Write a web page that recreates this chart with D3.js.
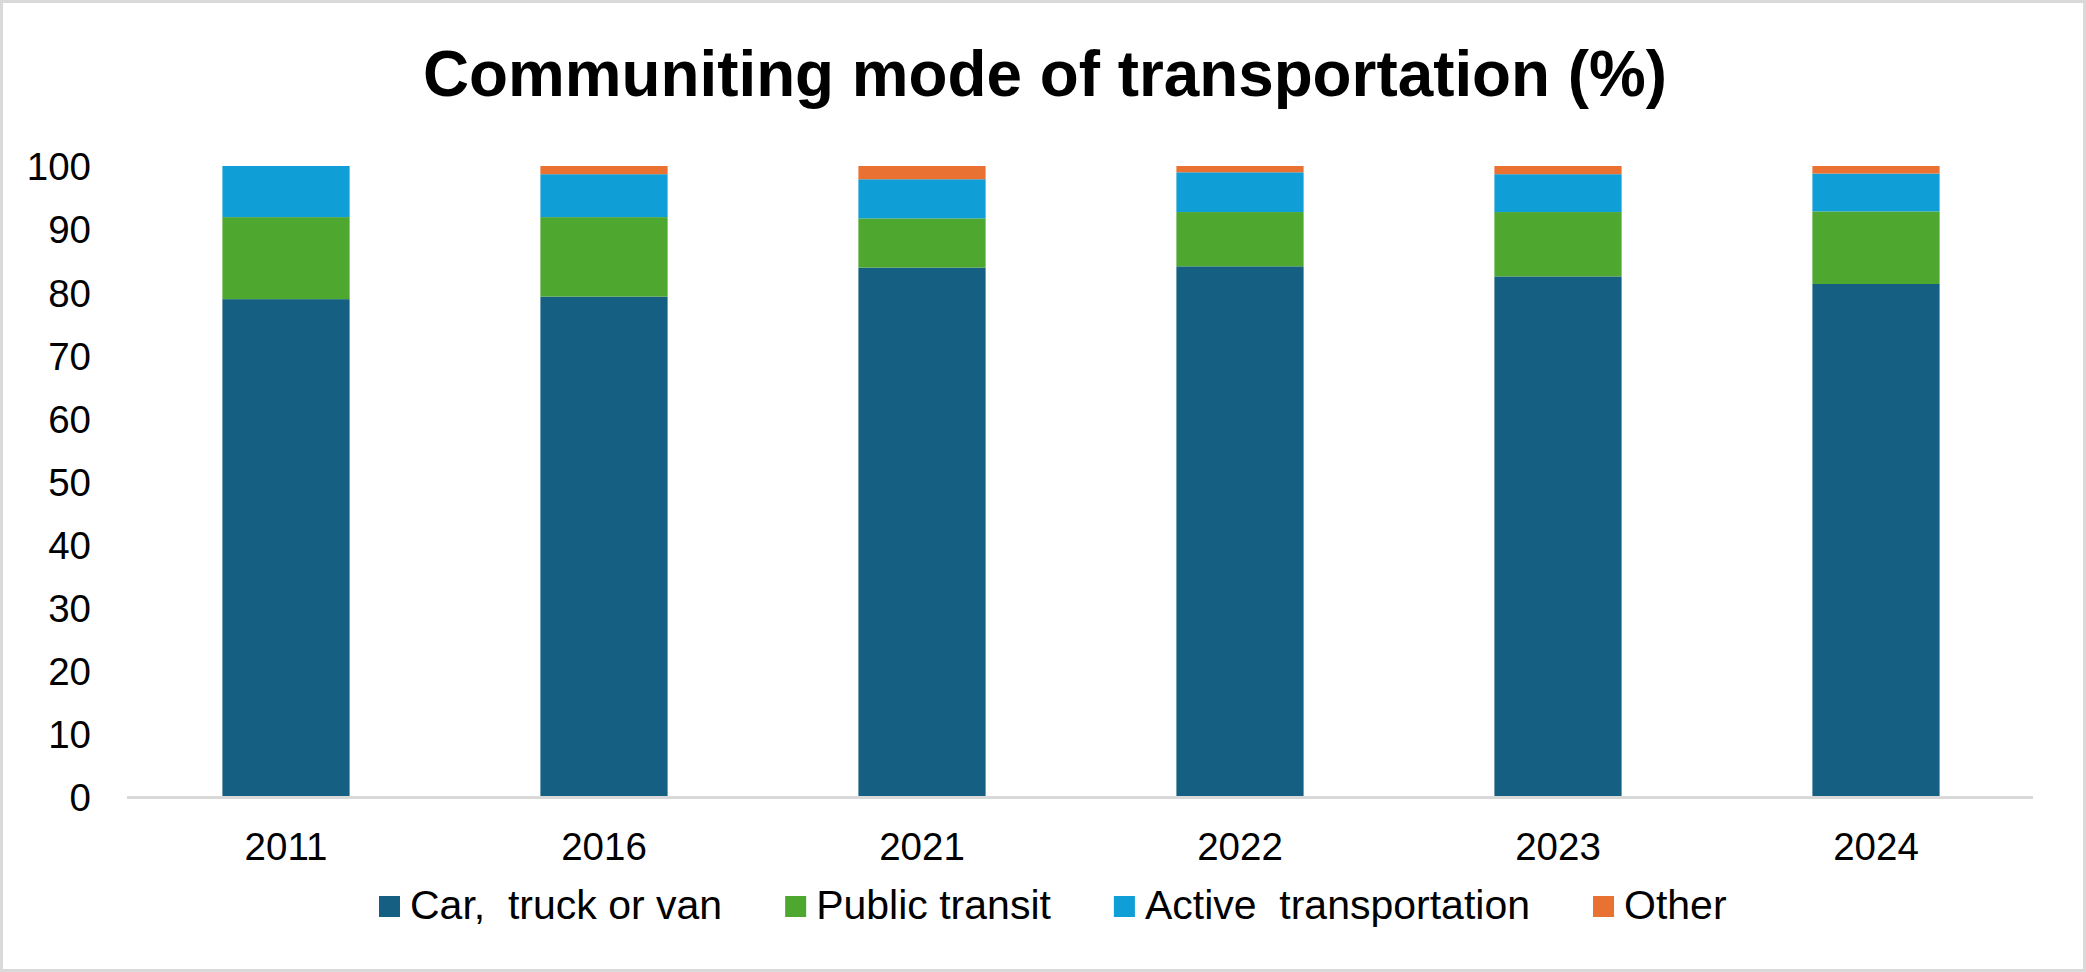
<!DOCTYPE html>
<html>
<head>
<meta charset="utf-8">
<script src="https://cdn.jsdelivr.net/npm/d3@7"></script>
<style>
  html, body { margin: 0; padding: 0; background: #fff; }
  svg { display: block; }
  text { font-family: "Liberation Sans", Arial, sans-serif; fill: #000; }
</style>
</head>
<body>
<svg id="chart" width="2086" height="972"></svg>
<script>
// ---- data ----
const years = ["2011", "2016", "2021", "2022", "2023", "2024"];
const seriesNames = ["Car,  truck or van", "Public transit", "Active  transportation", "Other"];
const carTruckVan = [78.9, 79.3, 83.9, 84.1, 82.5, 81.3];
const publicTransit = [13.0, 12.6, 7.8, 8.6, 10.2, 11.5];
const activeTransport = [8.1, 6.8, 6.2, 6.3, 6.0, 6.0];
const otherMode = [0, 1.3, 2.1, 1.0, 1.3, 1.2];
const yTicks = [0, 10, 20, 30, 40, 50, 60, 70, 80, 90, 100];
const colors = ["#156082", "#4ea72e", "#0f9ed5", "#e97132"];
const titleText = "Communiting mode of transportation (%)";

// ---- build table ----
const keys = ["car", "transit", "active", "other"];
const rows = years.map((y, i) => ({
  year: y, car: carTruckVan[i], transit: publicTransit[i],
  active: activeTransport[i], other: otherMode[i]
}));
const stacked = d3.stack().keys(keys)(rows);

const svg = d3.select("#chart");
const W = 2086, H = 972;

// border
svg.append("rect").attr("x", 1.5).attr("y", 1.5).attr("width", W - 3).attr("height", H - 3)
  .attr("fill", "#fff").attr("stroke", "#d9d9d9").attr("stroke-width", 3);

// title
svg.append("text").attr("x", 1045).attr("y", 96)
  .attr("text-anchor", "middle")
  .attr("font-size", 64).attr("font-weight", "bold")
  .attr("textLength", 1244).attr("lengthAdjust", "spacingAndGlyphs")
  .text(titleText);

// scales
const x = d3.scaleBand().domain(years).range([127, 2035]).paddingInner(0.6).paddingOuter(0.3);
const y = d3.scaleLinear().domain([0, 100]).range([797, 166]);

// bars
const g = svg.append("g");
g.selectAll("g.series").data(stacked).join("g")
  .attr("fill", (d, i) => colors[i])
  .selectAll("rect").data(d => d).join("rect")
  .attr("x", d => x(d.data.year))
  .attr("width", x.bandwidth())
  .attr("y", d => y(d[1]))
  .attr("height", d => Math.max(0, y(d[0]) - y(d[1])));

// y axis (labels only)
const yAxis = d3.axisLeft(y).tickValues(yTicks).tickSize(0).tickPadding(0);
const yg = svg.append("g").attr("transform", "translate(91,0)").call(yAxis);
yg.select(".domain").remove();
yg.selectAll("text").attr("font-size", 38.5).attr("fill", "#000")
  .attr("font-family", "Liberation Sans, Arial, sans-serif").attr("dy", "0.36em");

// x axis
const xAxis = d3.axisBottom(x).tickSize(0).tickPadding(0);
const xg = svg.append("g").attr("transform", "translate(0,797.5)").call(xAxis);
xg.select(".domain").remove();
xg.selectAll("text").attr("font-size", 38.5).attr("fill", "#000")
  .attr("font-family", "Liberation Sans, Arial, sans-serif")
  .attr("y", 62.5).attr("dy", 0);

// axis line
svg.append("line").attr("x1", 127).attr("x2", 2033).attr("y1", 797.5).attr("y2", 797.5)
  .attr("stroke", "#d9d9d9").attr("stroke-width", 3);

// legend
const leg = svg.append("g");
const items = leg.selectAll("g").data(seriesNames).join("g");
items.append("rect").attr("width", 21).attr("height", 21).attr("y", 896)
  .attr("fill", (d, i) => colors[i]);
items.append("text").attr("x", 31).attr("y", 919).attr("font-size", 41)
  .style("white-space", "pre").attr("xml:space", "preserve").text(d => d);
let cx = 0;
const offsets = [];
items.each(function () {
  offsets.push(cx);
  const tw = d3.select(this).select("text").node().getComputedTextLength();
  cx += 31 + tw + 63;
});
const start = 379;
items.attr("transform", (d, i) => `translate(${start + offsets[i]},0)`);
</script>
</body>
</html>
